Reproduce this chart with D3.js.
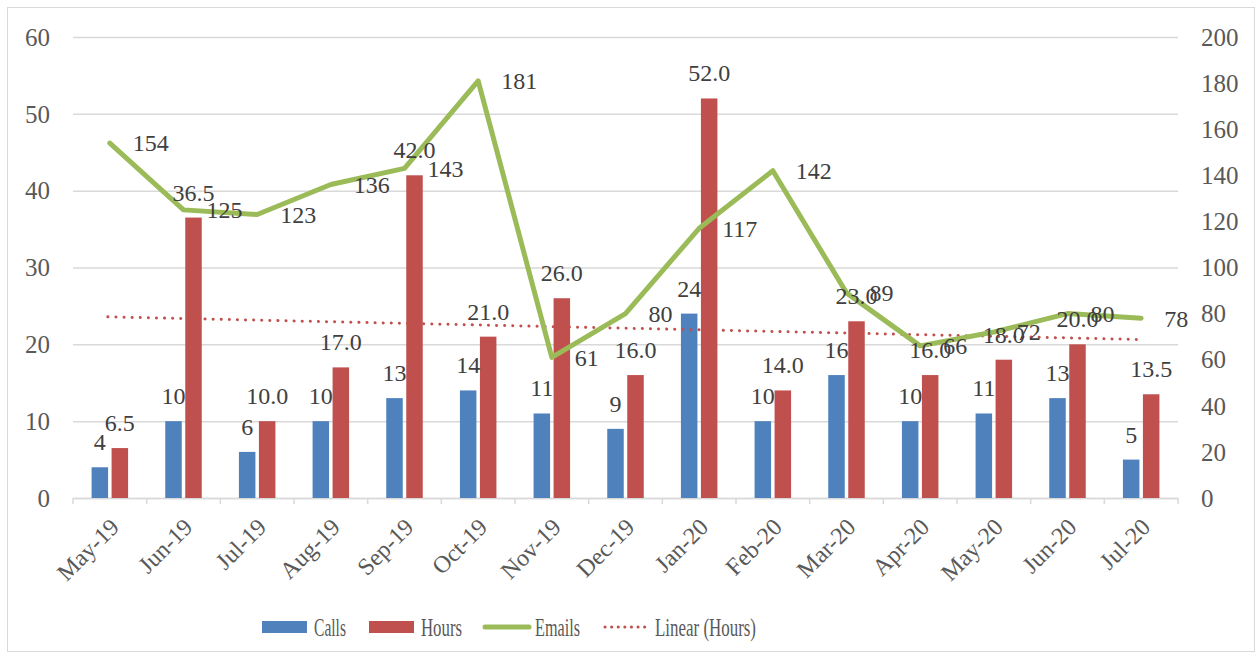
<!DOCTYPE html>
<html>
<head>
<meta charset="utf-8">
<script src="https://cdn.jsdelivr.net/npm/d3@7"></script>
<style>
  body { margin: 0; background: #fff; }
  text { font-family: "Liberation Serif", "DejaVu Serif", serif; }
</style>
</head>
<body>
<div id="chart"></div>
<script>
// chart data
const months = ["May-19","Jun-19","Jul-19","Aug-19","Sep-19","Oct-19","Nov-19","Dec-19",
                "Jan-20","Feb-20","Mar-20","Apr-20","May-20","Jun-20","Jul-20"]
const calls  = [4, 10, 6, 10, 13, 14, 11, 9, 24, 10, 16, 10, 11, 13, 5]
const hours  = [6.5, 36.5, 10, 17, 42, 21, 26, 16, 52, 14, 23, 16, 18, 20, 13.5]
const emails = [154, 125, 123, 136, 143, 181, 61, 80, 117, 142, 89, 66, 72, 80, 78]
const leftTicks  = [0, 10, 20, 30, 40, 50, 60]
const rightTicks = [0, 20, 40, 60, 80, 100, 120, 140, 160, 180, 200]

const width = 1257
const height = 660
const margin = {top: 37, right: 79, bottom: 162, left: 73}

const svg = d3.select("#chart").append("svg")
    .attr("width", width)
    .attr("height", height)

// outer frame
svg.append("rect")
    .attr("x", 7.5).attr("y", 7.5)
    .attr("width", 1247).attr("height", 644)
    .attr("fill", "#fff")
    .attr("stroke", "#d9d9d9")

const x = d3.scaleBand()
    .domain(months)
    .range([margin.left, width - margin.right])

const yL = d3.scaleLinear().domain([0, 60]).range([height - margin.bottom, margin.top])
const yR = d3.scaleLinear().domain([0, 200]).range([height - margin.bottom, margin.top])

// gridlines
svg.append("g")
    .selectAll("line")
    .data(leftTicks)
    .join("line")
      .attr("x1", margin.left).attr("x2", width - margin.right)
      .attr("y1", d => yL(d) + 0.5).attr("y2", d => yL(d) + 0.5)
      .attr("stroke", "#d9d9d9")
      .attr("stroke-width", 1.5)

// x axis
const xAxis = svg.append("g")
    .attr("transform", `translate(0,${yL(0)})`)
    .call(d3.axisBottom(x).tickSize(0).tickPadding(8))
xAxis.select(".domain").attr("stroke", "#d9d9d9").attr("stroke-width", 1.5)
xAxis.selectAll("text")
    .attr("font-size", 24)
    .attr("fill", "#595959")
    .attr("text-anchor", "end")
    .attr("dy", "0.35em")
    .attr("transform", "translate(-1,19) rotate(-45)")

// category separators
svg.append("g")
    .selectAll("line")
    .data(d3.range(months.length + 1))
    .join("line")
      .attr("x1", i => margin.left + i * x.step())
      .attr("x2", i => margin.left + i * x.step())
      .attr("y1", yL(0)).attr("y2", yL(0) + 6)
      .attr("stroke", "#d9d9d9")
      .attr("stroke-width", 1.5)

// left axis labels
svg.append("g")
    .selectAll("text")
    .data(leftTicks)
    .join("text")
      .attr("x", 50).attr("y", d => yL(d))
      .attr("dy", "0.35em")
      .attr("text-anchor", "end")
      .attr("font-size", 25)
      .attr("fill", "#595959")
      .text(d => d)

// right axis labels
svg.append("g")
    .selectAll("text")
    .data(rightTicks)
    .join("text")
      .attr("x", 1201).attr("y", d => yR(d))
      .attr("dy", "0.35em")
      .attr("text-anchor", "start")
      .attr("font-size", 25)
      .attr("fill", "#595959")
      .text(d => d)

const barW = 16.5
const gap = 3.5

// bars
svg.append("g")
    .selectAll("rect")
    .data(calls)
    .join("rect")
      .attr("x", (d, i) => x(months[i]) + x.bandwidth() / 2 - gap / 2 - barW)
      .attr("y", d => yL(d))
      .attr("width", barW)
      .attr("height", d => yL(0) - yL(d))
      .attr("fill", "#4f81bd")

svg.append("g")
    .selectAll("rect")
    .data(hours)
    .join("rect")
      .attr("x", (d, i) => x(months[i]) + x.bandwidth() / 2 + gap / 2)
      .attr("y", d => yL(d))
      .attr("width", barW)
      .attr("height", d => yL(0) - yL(d))
      .attr("fill", "#c0504d")

// linear trend on hours
const n = hours.length
const xs = d3.range(1, n + 1)
const mx = d3.mean(xs), my = d3.mean(hours)
const slope = d3.sum(xs, (v, i) => (v - mx) * (hours[i] - my)) / d3.sum(xs, v => (v - mx) * (v - mx))
const icpt = my - slope * mx
const trend = [1, n].map(v => ({m: months[v - 1], y: icpt + slope * v}))

svg.append("line")
    .attr("x1", x(trend[0].m) + x.bandwidth() / 2 - 2)
    .attr("x2", x(trend[1].m) + x.bandwidth() / 2)
    .attr("y1", yL(trend[0].y))
    .attr("y2", yL(trend[1].y))
    .attr("stroke", "#c0504d")
    .attr("stroke-width", 3)
    .attr("stroke-linecap", "round")
    .attr("stroke-dasharray", "0.1 8")

// emails line
const line = d3.line()
    .x((d, i) => x(months[i]) + x.bandwidth() / 2)
    .y(d => yR(d))

svg.append("path")
    .datum(emails)
    .attr("d", line)
    .attr("fill", "none")
    .attr("stroke", "#9bbb59")
    .attr("stroke-width", 5)
    .attr("stroke-linejoin", "round")
    .attr("stroke-linecap", "round")

// data labels
const lab = svg.append("g")
    .attr("font-size", 24)
    .attr("fill", "#404040")

lab.selectAll(".lc")
    .data(calls)
    .join("text")
      .attr("class", "lc")
      .attr("x", (d, i) => x(months[i]) + x.bandwidth() / 2 - gap / 2 - barW / 2)
      .attr("y", d => yL(d) - 17)
      .attr("text-anchor", "middle")
      .text(d => d)

lab.selectAll(".lh")
    .data(hours)
    .join("text")
      .attr("class", "lh")
      .attr("x", (d, i) => x(months[i]) + x.bandwidth() / 2 + gap / 2 + barW / 2)
      .attr("y", d => yL(d) - 17)
      .attr("text-anchor", "middle")
      .text(d => d.toFixed(1))

lab.selectAll(".le")
    .data(emails)
    .join("text")
      .attr("class", "le")
      .attr("x", (d, i) => x(months[i]) + x.bandwidth() / 2 + 23)
      .attr("y", d => yR(d))
      .attr("dy", "0.35em")
      .attr("text-anchor", "start")
      .text(d => d)

// legend
const legend = svg.append("g").attr("font-size", 26).attr("fill", "#595959")
const items = [
  {name: "Calls", type: "rect", color: "#4f81bd", x: 262, w: 32},
  {name: "Hours", type: "rect", color: "#c0504d", x: 369, w: 41},
  {name: "Emails", type: "line", color: "#9bbb59", x: 483, w: 45},
  {name: "Linear (Hours)", type: "dot", color: "#c0504d", x: 603, w: 101}
]
const ly = 627
items.forEach(it => {
  if (it.type === "rect") {
    legend.append("rect")
        .attr("x", it.x).attr("y", ly - 6)
        .attr("width", 45).attr("height", 12)
        .attr("fill", it.color)
  } else if (it.type === "line") {
    legend.append("line")
        .attr("x1", it.x + 2).attr("x2", it.x + 46)
        .attr("y1", ly).attr("y2", ly)
        .attr("stroke", it.color).attr("stroke-width", 5)
        .attr("stroke-linecap", "round")
  } else {
    legend.append("line")
        .attr("x1", it.x + 2).attr("x2", it.x + 48)
        .attr("y1", ly).attr("y2", ly)
        .attr("stroke", it.color).attr("stroke-width", 3)
        .attr("stroke-linecap", "round")
        .attr("stroke-dasharray", "0.1 6.5")
  }
  legend.append("text")
      .attr("x", it.x + 52).attr("y", ly)
      .attr("dy", "0.35em")
      .attr("textLength", it.w)
      .attr("lengthAdjust", "spacingAndGlyphs")
      .text(it.name)
})
</script>
</body>
</html>
